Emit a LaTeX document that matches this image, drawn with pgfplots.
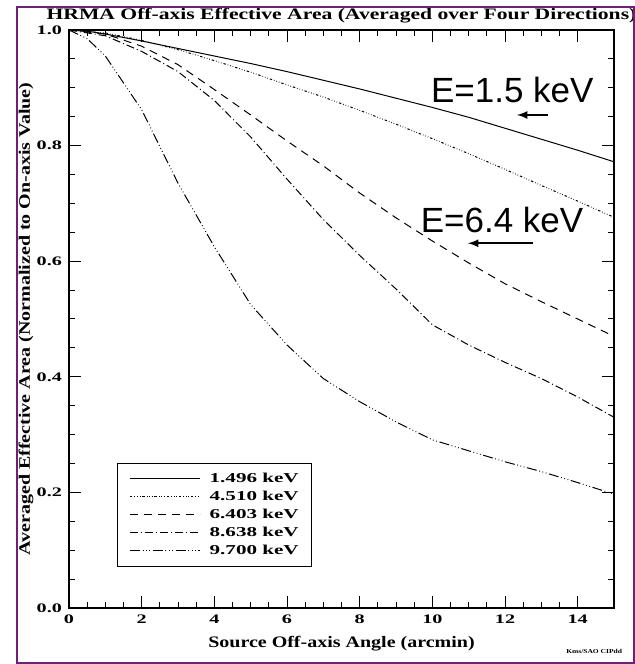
\documentclass[border=0pt]{standalone}
\usepackage{fontspec}
\setmainfont{Liberation Serif}[FakeStretch=1.25]
\newfontfamily\titlefont{Liberation Serif}[FakeStretch=1.35]
\newfontfamily\widefont{Liberation Serif}[FakeStretch=1.55]
\newfontfamily\annfont{Liberation Sans}
\usepackage{pgfplots}
\pgfplotsset{compat=1.18}
\definecolor{framepurple}{RGB}{112,32,120}

\begin{document}
\begin{tikzpicture}
\begin{axis}[
    at={(0,0)}, anchor=south west,
    scale only axis,
    width=272.5pt, height=289pt,
    xmin=0, xmax=15, ymin=0, ymax=1,
    xtick={0,2,...,14},
    ytick={0,0.2,...,1.0},
    minor x tick num=3,
    minor y tick num=3,
    tick align=inside,
    major tick length=6pt,
    minor tick length=3pt,
    axis line style={line width=0.6pt},
    every tick/.style={black, line width=0.5pt},
    yticklabel style={/pgf/number format/fixed, /pgf/number format/fixed zerofill, /pgf/number format/precision=1},
    /pgf/number format/assume math mode=true,
    tick label style={font=\widefont\fontsize{6.5}{7}\selectfont\bfseries},
    title={HRMA Off-axis Effective Area (Averaged over Four Directions)},
    every axis title shift=0pt,
    title style={at={(axis description cs:0.5,1.0173)}, anchor=base, font=\titlefont\fontsize{8}{9}\selectfont\bfseries},
    xlabel={Source Off-axis Angle (arcmin)},
    xlabel style={at={(axis description cs:0.5,-0.0675)}, anchor=base, font=\fontsize{8}{9}\selectfont\bfseries},
    ylabel={Averaged Effective Area (Normalized to On-axis Value)},
    ylabel style={at={(axis description cs:-0.0716,0.5)}, anchor=base, font=\fontsize{8}{9}\selectfont\bfseries},
    legend style={at={(axis cs:1.32,0.251)}, anchor=north west, draw=black, line width=0.5pt,
        font=\widefont\fontsize{6.8}{7}\selectfont\bfseries, row sep=1.6pt,
        nodes={inner sep=0.6pt}, inner xsep=6pt, inner ysep=4pt},
    legend cell align=left,
    legend image code/.code={\draw[#1] plot coordinates {(0pt,0pt) (35pt,0pt)};},
    every axis plot/.append style={black, line width=0.5pt},
]

\addplot[solid] coordinates {
    (0,1.0)(0.5,0.998)(1,0.993)(2,0.981)(3,0.968)(4,0.955)(5,0.942)(6,0.928)
    (7,0.913)(8,0.898)(9,0.882)(10,0.866)(11,0.849)(12,0.830)(13,0.811)(14,0.792)(15,0.772)
};
\addlegendentry{\hspace{4pt}1.496 keV}

\addplot[dash pattern=on 1.2pt off 1pt on 0.3pt off 1pt on 0.3pt off 1pt on 0.3pt off 1pt] coordinates {
    (0,1)(1,0.995)(2,0.982)(3,0.966)(4,0.947)(5,0.927)(6,0.905)(7,0.884)
    (8,0.861)(9,0.837)(10,0.812)(11,0.786)(12,0.759)(13,0.731)(14,0.704)(15,0.676)
};
\addlegendentry{\hspace{4pt}4.510 keV}

\addplot[dash pattern=on 4pt off 3pt] coordinates {
    (0,1)(1,0.993)(2,0.972)(3,0.940)(4,0.897)(5,0.853)(6,0.808)(7,0.765)
    (8,0.718)(9,0.675)(10,0.635)(11,0.597)(12,0.561)(13,0.530)(14,0.500)(15,0.470)
};
\addlegendentry{\hspace{4pt}6.403 keV}

\addplot[dash pattern=on 4pt off 1.5pt on 0.5pt off 1.5pt] coordinates {
    (0,1)(1,0.99)(2,0.963)(3,0.928)(4,0.878)(5,0.815)(6,0.742)(7,0.672)
    (8,0.610)(9,0.552)(10,0.490)(11,0.455)(12,0.425)(13,0.397)(14,0.365)(15,0.330)
};
\addlegendentry{\hspace{4pt}8.638 keV}

\addplot[dash pattern=on 5pt off 1.3pt on 0.4pt off 1.3pt on 0.4pt off 1.3pt on 0.4pt off 1.3pt] coordinates {
    (0,1)(0.5,0.985)(1,0.955)(2,0.862)(3,0.735)(4,0.625)(5,0.525)(6,0.455)(7,0.397)
    (8,0.357)(9,0.322)(10,0.291)(11,0.272)(12,0.253)(13,0.236)(14,0.217)(15,0.197)
};
\addlegendentry{\hspace{4pt}9.700 keV}

% annotations added on top of the original plot
\node[anchor=base, font=\annfont\fontsize{17.5}{18}\selectfont] at (axis cs:12.2,0.874) {E=1.5 keV};
\draw[-latex, line width=0.8pt] (axis cs:13.18,0.853) -- (axis cs:12.33,0.853);
\node[anchor=base, font=\annfont\fontsize{17.5}{18}\selectfont] at (axis cs:11.92,0.650) {E=6.4 keV};
\draw[-latex, line width=0.8pt] (axis cs:12.77,0.631) -- (axis cs:10.98,0.631);
\end{axis}

\node[anchor=base east, font=\fontsize{3}{3}\selectfont\bfseries] at (280pt,-23pt) {Kms/SAO CIPdd};
\draw[framepurple, line width=0.8pt] (-26pt,-27.5pt) rectangle (282.5pt,300.5pt);
\pgfresetboundingbox
\path[use as bounding box] (-34.5pt,-28pt) rectangle (283pt,304pt);
\end{tikzpicture}
\end{document}
